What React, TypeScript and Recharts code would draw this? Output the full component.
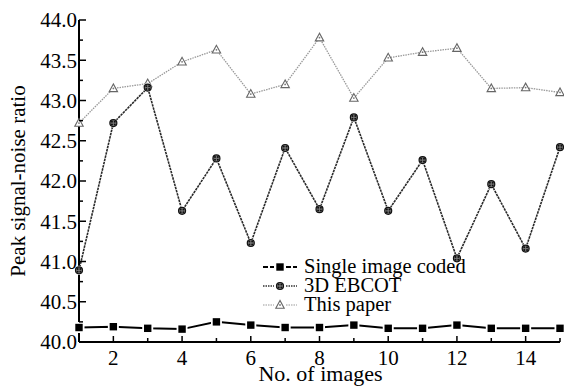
import React from 'react';
import { LineChart, Line, XAxis, YAxis, Legend } from 'recharts';

const imageCounts = [1, 2, 3, 4, 5, 6, 7, 8, 9, 10, 11, 12, 13, 14, 15];
const singleImageCoded = [40.18, 40.19, 40.17, 40.16, 40.25, 40.21, 40.18, 40.18, 40.21, 40.17, 40.17, 40.21, 40.17, 40.17, 40.17];
const ebcot3d = [40.89, 42.72, 43.16, 41.63, 42.28, 41.23, 42.41, 41.65, 42.79, 41.63, 42.26, 41.04, 41.96, 41.16, 42.42];
const thisPaper = [42.72, 43.15, 43.21, 43.48, 43.63, 43.08, 43.2, 43.78, 43.03, 43.53, 43.6, 43.65, 43.15, 43.16, 43.1];
const xTicks = [1, 2, 3, 4, 5, 6, 7, 8, 9, 10, 11, 12, 13, 14, 15];
const yTicks = [40, 40.25, 40.5, 40.75, 41, 41.25, 41.5, 41.75, 42, 42.25, 42.5, 42.75, 43, 43.25, 43.5, 43.75, 44];
const seriesNames = ['Single image coded', '3D EBCOT', 'This paper'];
const xTitle = 'No. of images';
const yTitle = 'Peak signal-noise ratio';

const data = imageCounts.map((x, i) => ({
  x,
  single: singleImageCoded[i],
  ebcot: ebcot3d[i],
  paper: thisPaper[i],
}));

const FONT = 'Liberation Serif';

const SquareDot = (props: any) => {
  const { cx, cy } = props;
  if (cx == null || cy == null) return null;
  return (
    <g>
      <rect x={cx - 5.5} y={cy - 5.5} width={11} height={11} fill="#fff" />
      <rect x={cx - 3.7} y={cy - 3.7} width={7.4} height={7.4} fill="#000" />
    </g>
  );
};

const CircleDot = (props: any) => {
  const { cx, cy } = props;
  if (cx == null || cy == null) return null;
  return (
    <g>
      <circle cx={cx} cy={cy} r={4.6} fill="#fff" />
      <circle cx={cx} cy={cy} r={3.5} fill="#777" stroke="#111" strokeWidth={1.2} />
      <circle cx={cx - 1.4} cy={cy - 1.4} r={1} fill="#111" />
      <circle cx={cx + 1.4} cy={cy - 1.4} r={1} fill="#111" />
      <circle cx={cx - 1.4} cy={cy + 1.4} r={1} fill="#111" />
      <circle cx={cx + 1.4} cy={cy + 1.4} r={1} fill="#111" />
    </g>
  );
};

const TriangleDot = (props: any) => {
  const { cx, cy } = props;
  if (cx == null || cy == null) return null;
  return (
    <g>
      <polygon
        points={`${cx},${cy - 4.5} ${cx - 4.2},${cy + 3.2} ${cx + 4.2},${cy + 3.2}`}
        fill="#fff"
        stroke="#666"
        strokeWidth={1.1}
      />
      <circle cx={cx} cy={cy} r={0.9} fill="#777" />
    </g>
  );
};

const XTick = (props: any) => {
  const { x, y, payload } = props;
  const v = payload.value;
  const major = v % 2 === 0;
  return (
    <g>
      <line x1={x} y1={y} x2={x} y2={y - (major ? 6 : 4)} stroke="#000" strokeWidth={1.5} />
      {major && (
        <text x={x} y={y + 23} textAnchor="middle" fontFamily={FONT} fontSize={21} fill="#000">
          {v}
        </text>
      )}
    </g>
  );
};

const YTick = (props: any) => {
  const { x, y, payload } = props;
  const v = payload.value;
  const major = Math.abs(v * 2 - Math.round(v * 2)) < 1e-6;
  return (
    <g>
      <line x1={x} y1={y} x2={x + (major ? 7 : 4)} y2={y} stroke="#000" strokeWidth={1.5} />
      {major && (
        <text x={x - 2} y={y} dy="0.35em" textAnchor="end" fontFamily={FONT} fontSize={21} fill="#000">
          {v.toFixed(1)}
        </text>
      )}
    </g>
  );
};

const LegendContent = () => {
  const rows = [
    { name: seriesNames[0], color: '#000', width: 2, dash: '5 2', Dot: SquareDot },
    { name: seriesNames[1], color: '#333', width: 1.3, dash: '1.5 1', Dot: CircleDot },
    { name: seriesNames[2], color: '#999', width: 1.2, dash: '1.5 1', Dot: TriangleDot },
  ];
  return (
    <div style={{ fontFamily: '"Liberation Serif"', fontSize: 20.5, color: '#000' }}>
      {rows.map((r) => (
        <div key={r.name} style={{ display: 'flex', alignItems: 'center', height: 19, lineHeight: '19px' }}>
          <svg width={42} height={19} style={{ display: 'block' }}>
            <line x1={1} y1={10} x2={12} y2={10} stroke={r.color} strokeWidth={r.width} strokeDasharray={r.dash} />
            <line x1={24} y1={10} x2={35} y2={10} stroke={r.color} strokeWidth={r.width} strokeDasharray={r.dash} />
            <r.Dot cx={18} cy={10} />
          </svg>
          <span style={{ whiteSpace: 'nowrap' }}>{r.name}</span>
        </div>
      ))}
    </div>
  );
};

export default function App() {
  return (
    <div style={{ position: 'absolute', left: 0, top: 0, width: 564, height: 386, background: '#fff' }}>
      <LineChart width={564} height={386} data={data} margin={{ top: 20, right: 4, bottom: 0, left: 0 }}>
        <XAxis
          dataKey="x"
          type="number"
          domain={[1, 15]}
          ticks={xTicks}
          interval={0}
          height={44}
          tickSize={0}
          tickMargin={0}
          tick={<XTick />}
          axisLine={{ stroke: '#000', strokeWidth: 2 }}
          label={(p: any) => {
            const vb = p.viewBox || {};
            const cx = (vb.x ?? 0) + (vb.width ?? 0) / 2 + 1;
            const cy = (vb.y ?? 0) + (vb.height ?? 0) - 5;
            return (
              <text x={cx} y={cy} textAnchor="middle" fontFamily={FONT} fontSize={22} fill="#000">
                {xTitle}
              </text>
            );
          }}
        />
        <YAxis
          type="number"
          domain={[40, 44]}
          ticks={yTicks}
          interval={0}
          width={79}
          tickSize={0}
          tickMargin={0}
          tick={<YTick />}
          axisLine={{ stroke: '#000', strokeWidth: 2 }}
          label={(p: any) => {
            const vb = p.viewBox || {};
            const cx = (vb.x ?? 0) + 25;
            const cy = (vb.y ?? 0) + (vb.height ?? 0) / 2;
            return (
              <text
                x={cx}
                y={cy}
                transform={`rotate(-90, ${cx}, ${cy})`}
                textAnchor="middle"
                fontFamily={FONT}
                fontSize={21}
                fill="#000"
              >
                {yTitle}
              </text>
            );
          }}
        />
        <Legend
          layout="vertical"
          align="center"
          verticalAlign="middle"
          content={<LegendContent />}
          wrapperStyle={{ position: 'absolute', left: 262, top: 257, width: 240 }}
        />
        <Line
          dataKey="paper"
          name={seriesNames[2]}
          stroke="#999"
          strokeWidth={1.3}
          strokeDasharray="1.5 1"
          dot={<TriangleDot />}
          isAnimationActive={false}
        />
        <Line
          dataKey="ebcot"
          name={seriesNames[1]}
          stroke="#2a2a2a"
          strokeWidth={1.6}
          strokeDasharray="2.5 0.8"
          dot={<CircleDot />}
          isAnimationActive={false}
        />
        <Line
          dataKey="single"
          name={seriesNames[0]}
          stroke="#000"
          strokeWidth={2}
          dot={<SquareDot />}
          isAnimationActive={false}
        />
      </LineChart>
    </div>
  );
}
